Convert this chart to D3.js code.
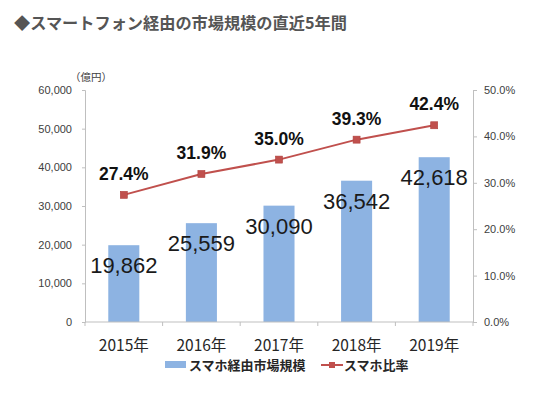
<!DOCTYPE html>
<html>
<head>
<meta charset="utf-8">
<script src="https://cdn.jsdelivr.net/npm/d3@7/dist/d3.min.js"></script>
<style>
html,body{margin:0;padding:0;background:#fff;}
svg{display:block;}
</style>
</head>
<body>
<svg id="chart" width="554" height="398"></svg>
<script>
const title = "◆スマートフォン経由の市場規模の直近5年間";
const unitLabel = "（億円）";
const categories = ["2015年","2016年","2017年","2018年","2019年"];
const marketSize = [19862, 25559, 30090, 36542, 42618];
const smartphoneRatio = [0.274, 0.319, 0.350, 0.393, 0.424];
const leftTicks = [0,10000,20000,30000,40000,50000,60000];
const rightTicks = [0,0.1,0.2,0.3,0.4,0.5];
const seriesNames = ["スマホ経由市場規模","スマホ比率"];

const svg = d3.select("#chart");
const jp = "'Noto Sans CJK JP','Noto Sans',sans-serif";
const num = "'Liberation Sans',Arial,sans-serif";
const barColor = "#8DB3E2";
const lineColor = "#C0504D";
const axisColor = "#BFBFBF";

const plotL = 85, plotR = 473, plotT = 90, plotB = 322;

const x = d3.scaleBand().domain(categories).range([plotL, plotR]).padding(0);
const yL = d3.scaleLinear().domain([0, 60000]).range([plotB, plotT]);
const yR = d3.scaleLinear().domain([0, 0.5]).range([plotB, plotT]);
const barW = x.bandwidth() * 0.4;

// title
svg.append("text").attr("x", 14).attr("y", 29)
  .attr("font-family", jp).attr("font-weight", "bold").attr("font-size", 16.2)
  .attr("fill", "#555555").text(title);

// bars
svg.selectAll("rect.bar").data(marketSize).enter().append("rect")
  .attr("class","bar")
  .attr("x", (d,i) => x(categories[i]) + x.bandwidth()/2 - barW/2)
  .attr("width", barW)
  .attr("y", d => yL(d))
  .attr("height", d => yL(0) - yL(d))
  .attr("fill", barColor);

// left axis
const gL = svg.append("g").attr("transform", `translate(${plotL},0)`)
  .call(d3.axisLeft(yL).tickValues(leftTicks).tickSize(3).tickPadding(10)
    .tickFormat(d => d3.format(",")(d)));
gL.select(".domain").attr("stroke", axisColor);
gL.selectAll(".tick line").attr("stroke", axisColor);
gL.selectAll(".tick text").attr("font-family", num).attr("font-size", 11).attr("fill", "#404040");

// right axis
const gR = svg.append("g").attr("transform", `translate(${plotR},0)`)
  .call(d3.axisRight(yR).tickValues(rightTicks).tickSize(4).tickPadding(7)
    .tickFormat(d3.format(".1%")));
gR.select(".domain").attr("stroke", axisColor);
gR.selectAll(".tick line").attr("stroke", axisColor);
gR.selectAll(".tick text").attr("font-family", num).attr("font-size", 11).attr("fill", "#404040");

// bottom axis
const gB = svg.append("g").attr("transform", `translate(0,${plotB})`);
gB.append("line").attr("x1", plotL).attr("x2", plotR).attr("y1", 0).attr("y2", 0).attr("stroke", axisColor);
const bounds = categories.map(c => x(c)).concat([plotR]);
gB.selectAll("line.tk").data(bounds).enter().append("line").attr("class","tk")
  .attr("x1", d => d).attr("x2", d => d).attr("y1", 0).attr("y2", 4).attr("stroke", axisColor);
gB.selectAll("text").data(categories).enter().append("text")
  .attr("x", d => x(d) + x.bandwidth()/2).attr("y", 29)
  .attr("text-anchor","middle").attr("font-family", jp).attr("font-size", 15.5)
  .attr("fill", "#262626").text(d => d);

// unit label
svg.append("text").attr("x", 70).attr("y", 81)
  .attr("font-family", jp).attr("font-size", 10.5).attr("fill", "#404040").text(unitLabel);

// line
const line = d3.line().x((d,i) => x(categories[i]) + x.bandwidth()/2).y(d => yR(d));
svg.append("path").datum(smartphoneRatio).attr("d", line)
  .attr("fill","none").attr("stroke", lineColor).attr("stroke-width", 2);
svg.selectAll("rect.mk").data(smartphoneRatio).enter().append("rect").attr("class","mk")
  .attr("x", (d,i) => x(categories[i]) + x.bandwidth()/2 - 3.5)
  .attr("y", d => yR(d) - 3.5).attr("width", 7).attr("height", 7)
  .attr("fill", lineColor).attr("stroke", "#B0403D").attr("stroke-width", 0.6);

// bar labels
svg.selectAll("text.bl").data(marketSize).enter().append("text").attr("class","bl")
  .attr("x", (d,i) => x(categories[i]) + x.bandwidth()/2)
  .attr("y", d => yL(d) + 28)
  .attr("text-anchor","middle").attr("font-family", num).attr("font-size", 22)
  .attr("fill", "#1a1a1a").text(d => d3.format(",")(d));

// ratio labels
svg.selectAll("text.rl").data(smartphoneRatio).enter().append("text").attr("class","rl")
  .attr("x", (d,i) => x(categories[i]) + x.bandwidth()/2)
  .attr("y", d => yR(d) - 15)
  .attr("text-anchor","middle").attr("font-family", num).attr("font-weight","bold").attr("font-size", 17.5)
  .attr("fill", "#111").text(d => d3.format(".1%")(d));

// legend
const lg = svg.append("g");
lg.append("rect").attr("x", 165).attr("y", 361).attr("width", 21).attr("height", 7).attr("fill", barColor);
lg.append("text").attr("x", 189).attr("y", 369.5).attr("font-family", jp).attr("font-weight","bold")
  .attr("font-size", 13).attr("fill", "#262626").text(seriesNames[0]);
lg.append("line").attr("x1", 321).attr("x2", 343).attr("y1", 365).attr("y2", 365)
  .attr("stroke", lineColor).attr("stroke-width", 2);
lg.append("rect").attr("x", 329).attr("y", 362).attr("width", 6).attr("height", 6).attr("fill", lineColor);
lg.append("text").attr("x", 344).attr("y", 369.5).attr("font-family", jp).attr("font-weight","bold")
  .attr("font-size", 13).attr("fill", "#262626").text(seriesNames[1]);
</script>
</body>
</html>
